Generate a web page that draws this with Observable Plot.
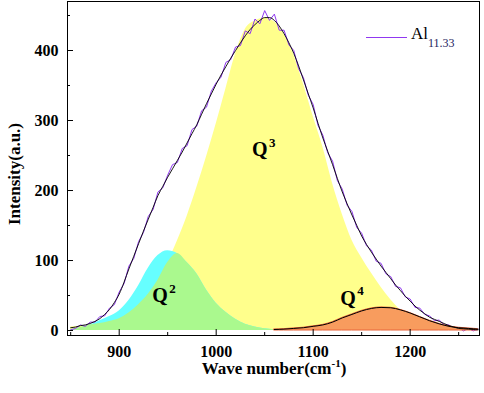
<!DOCTYPE html>
<html><head><meta charset="utf-8">
<script src="https://cdn.jsdelivr.net/npm/d3@7"></script>
<script src="https://cdn.jsdelivr.net/npm/@observablehq/plot@0.6"></script>
<style>body{margin:0;background:#fff}svg{display:block}</style>
</head><body><div id="chart"></div>
<script>
// Wavenumber grids (cm-1)
const waveFine = d3.range(850, 1271, 5);
const waveCoarse = d3.range(850, 1271, 10);
const waveQ2 = d3.range(850, 1071, 10);
const waveQ4 = d3.range(1060, 1271, 10);

// Measured spectrum (purple, noisy)
const measured = [1,3,8,6,12,12,20,21,32,37,55,67,92,103,127,140,163,173,198,204,
  222,237,240,260,264,287,292,314,319,342,354,362,383,387,405,407,428,424,445,438,
  457,443,452,429,429,408,400,374,361,336,323,293,279,254,242,214,202,179,170,147,
  139,121,115,99,96,81,77,63,61,48,45,33,32,23,21,14,15,8,8,2,4,-0.5,3,-0.5,2];
// Cumulative fit (black)
const fitTotal = [4,5,7,8,10,13,17,23,30,40,52,69,88,106,124,142,159,176,193,206,
  219,231,243,255,268,281,294,309,324,338,352,365,377,389,400,411,421,430,437,443,
  447,447,443,435,424,411,396,378,358,338,318,296,275,256,237,217,198,181,165,150,
  135,123,112,102,92,83,74,65,57,49,42,35,29,24,19,16,13,10,7,5,3,2.5,2,1.5,1];
// Component bands
const q3 = [5,6,8,10,13,17,25,37,52,72,97,128,163,204,248,295,345,395,430,442,
  446,441,423,394,352,306,262,210,166,129,104,82,62,44,29,18,11,6,3,2,1,0.5,0];
const q2 = [1,4,8,14,20,28,43,64,89,107,114,110,97,81,58,39,26,16,9,5,2.5,1,0];
const q4 = [1.5,2,3,4,6,8,12,18,23,28,31.5,33,32.5,29.5,25,19.5,14,9.5,6,4,3,2];

const qLabels = [
  {name: "Q", sup: "2", x: 934, y: 50},
  {name: "Q", sup: "3", x: 1037, y: 258},
  {name: "Q", sup: "4", x: 1128, y: 46}
];
const xTicksMajor = [900, 1000, 1100, 1200];
const xTicksMinor = [850, 950, 1050, 1150, 1250];
const yTicksMajor = [0, 100, 200, 300, 400];
const yTicksMinor = [50, 150, 250, 350, 450];
const legendLabel = "Al", legendSub = "11.33";
const xTitle = "Wave number(cm", xTitleSup = "-1", yTitle = "Intensity(a.u.)";

const W = 484, H = 393, mL = 67, mR = 5, mT = 1, mB = 58;
const xDom = [846.7, 1271.5], yDom = [-7.1, 470];
const ux = (xDom[1] - xDom[0]) / (W - mL - mR); // data units per px
const uy = (yDom[1] - yDom[0]) / (H - mT - mB);

const fine = waveFine.map((w, i) => ({w, data: measured[i], fit: fitTotal[i]}));
const c3 = waveCoarse.map((w, i) => ({w, v: q3[i]}));
const c2 = waveQ2.map((w, i) => ({w, v: q2[i], m: Math.min(q2[i], q3[i])}));
const c4 = waveQ4.map((w, i) => ({w, v: q4[i]}));

const serif = "Liberation Serif, Times New Roman, serif";
const plot = Plot.plot({
  width: W, height: H,
  marginLeft: mL, marginRight: mR, marginTop: mT, marginBottom: mB,
  style: {fontFamily: serif, fontSize: "16px", fontWeight: "bold", color: "#000", background: "#fff"},
  x: {domain: xDom, label: null},
  y: {domain: yDom, label: null},
  marks: [
    Plot.areaY(c3, {x: "w", y: "v", fill: "#FFFF8C", curve: "monotone-x"}),
    Plot.areaY(c2, {x: "w", y: "v", fill: "#66FFFF", curve: "monotone-x"}),
    Plot.areaY(c2, {x: "w", y: "m", fill: "#AAF98E", curve: "monotone-x"}),
    Plot.line(fine, {x: "w", y: "data", stroke: "#9038F0", strokeWidth: 1}),
    Plot.areaY(c4, {x: "w", y: "v", fill: "#F89C5E", stroke: "#E8643A", strokeWidth: 1, curve: "monotone-x"}),
    Plot.line(c4, {x: "w", y: "v", stroke: "#000", strokeWidth: 1, curve: "monotone-x"}),
    Plot.line(fine, {x: "w", y: "fit", stroke: "#000", strokeWidth: 0.9, curve: "monotone-x"}),
    Plot.text(qLabels, {x: "x", y: "y", text: "name", textAnchor: "start", fontSize: 20, fontWeight: "bold"}),
    Plot.text(qLabels, {x: "x", y: "y", text: "sup", textAnchor: "start", dx: 17, dy: -7, fontSize: 13, fontWeight: "bold"}),
    Plot.ruleY(yTicksMajor, {y: d => d, x1: xDom[0], x2: xDom[0] + 6 * ux, stroke: "#000"}),
    Plot.ruleY(yTicksMinor, {y: d => d, x1: xDom[0], x2: xDom[0] + 3 * ux, stroke: "#000"}),
    Plot.ruleX(xTicksMajor, {x: d => d, y1: yDom[0], y2: yDom[0] + 6 * uy, stroke: "#000"}),
    Plot.ruleX(xTicksMinor, {x: d => d, y1: yDom[0], y2: yDom[0] + 3 * uy, stroke: "#000"}),
    Plot.axisY(yTicksMajor, {tickSize: 0, tickPadding: 9, tickFormat: d => String(d), fontSize: 16, fontWeight: "bold"}),
    Plot.axisX(xTicksMajor, {tickSize: 0, tickPadding: 10, tickFormat: d => String(d), fontSize: 16, fontWeight: "bold"}),
    Plot.frame({stroke: "#000", strokeWidth: 1})
  ]
});

const svg = d3.select(plot);
// x title with superscript
const xt = svg.append("text").attr("x", 274).attr("y", 374)
  .attr("text-anchor", "middle").attr("font-family", serif).attr("font-weight", "bold")
  .attr("font-size", 17).attr("fill", "#000");
xt.append("tspan").text(xTitle);
xt.append("tspan").attr("font-size", 11).attr("dy", -7).text(xTitleSup);
xt.append("tspan").attr("dy", 7).text(")");
// y title
svg.append("text").attr("transform", `translate(20,${mT + (H - mT - mB) / 2 + 6}) rotate(-90)`)
  .attr("text-anchor", "middle").attr("font-family", serif).attr("font-weight", "bold")
  .attr("font-size", 17).attr("fill", "#000").text(yTitle);
// legend
const lg = svg.append("g");
lg.append("line").attr("x1", 366).attr("x2", 407).attr("y1", 37.5).attr("y2", 37.5)
  .attr("stroke", "#9038F0").attr("stroke-width", 1);
const lt = lg.append("text").attr("x", 411).attr("y", 39).attr("text-anchor", "start")
  .attr("font-family", serif).attr("font-size", 17).attr("font-weight", "normal").attr("fill", "#000");
lt.append("tspan").text(legendLabel);
lt.append("tspan").attr("dy", 8).attr("font-size", 12).attr("fill", "#1c1c5c").text(legendSub);

document.getElementById("chart").appendChild(plot);
</script>
</body></html>
